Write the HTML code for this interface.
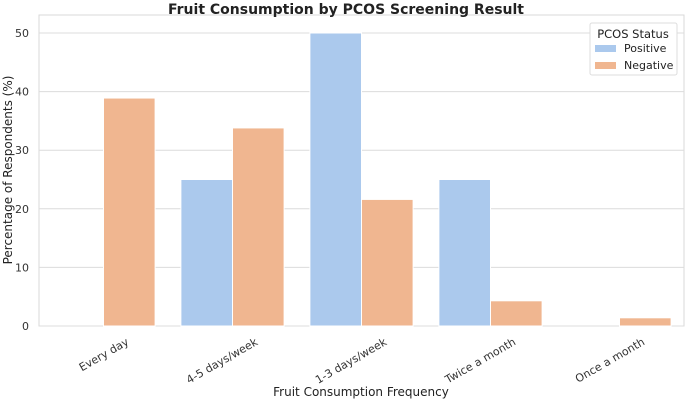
<!DOCTYPE html>
<html><head><meta charset="utf-8"><style>
body{margin:0;background:#fff;font-family:"DejaVu Sans","Liberation Sans",sans-serif;}
</style></head><body>
<svg id="chart" width="685" height="400" xmlns="http://www.w3.org/2000/svg" font-family="DejaVu Sans, Liberation Sans, sans-serif"></svg>
<script>
const categories=["Every day","4-5 days/week","1-3 days/week","Twice a month","Once a month"];
const positive=[0,25,50,25,0];
const negative=[38.9,33.8,21.6,4.3,1.4];
const yTicks=[0,10,20,30,40,50];
const series=[{name:"Positive",vals:positive,color:"#abc9ed"},{name:"Negative",vals:negative,color:"#f0b690"}];
const L=39,R=684,T=15,B=326,Y50=33;
const ns="http://www.w3.org/2000/svg";
const svg=document.getElementById('chart');
function y(v){return B-(B-Y50)*v/50;}
const band=(R-L)/categories.length;
function xc(i){return L+band*(i+0.5);}
function mk(tag,attrs,parent){const e=document.createElementNS(ns,tag);for(const k in attrs)e.setAttribute(k,attrs[k]);(parent||svg).appendChild(e);return e;}
mk('rect',{x:L,y:T,width:R-L,height:B-T,fill:'#fff',stroke:'#d9d9d9','stroke-width':1});
yTicks.forEach(t=>{
 const g=mk('line',{x1:L,x2:R,y1:y(t),y2:y(t),stroke:'#dcdcdc','stroke-width':1});
 
 
 const tx=mk('text',{x:L-10,y:y(t)+4,'text-anchor':'end','font-size':11,fill:'#333'});
 tx.textContent=t;
 
 
});
const bw=band*0.8/2;
categories.forEach((c,i)=>{
 series.forEach((s,j)=>{
  const v=s.vals[i];
  const r=mk('rect',{x:xc(i)-bw+j*bw,y:y(v),width:bw,height:B-y(v),fill:s.color,stroke:'#fff','stroke-width':1});
  
  
 });
 const t=mk('text',{x:0,y:0,'text-anchor':'end','font-size':11,fill:'#333',transform:`translate(${xc(i)+26},${B+18}) rotate(-30)`});
 t.textContent=c;
 
 
});
</script>
<svg width="685" height="400" style="position:absolute;left:0;top:0" font-family="DejaVu Sans, Liberation Sans, sans-serif">
<text x="346" y="14" text-anchor="middle" font-size="14" font-weight="bold" fill="#222">Fruit Consumption by PCOS Screening Result</text>
<text x="361" y="396" text-anchor="middle" font-size="12" fill="#222">Fruit Consumption Frequency</text>
<text transform="translate(12,170) rotate(-90)" text-anchor="middle" font-size="12" fill="#222">Percentage of Respondents (%)</text>
<g>
<rect x="590" y="23" width="87" height="52" fill="#fff" stroke="#dcdcdc" rx="2"/>
<text x="633" y="38" text-anchor="middle" font-size="11.5" fill="#222">PCOS Status</text>
<rect x="595" y="45" width="21" height="7" fill="#abc9ed"/>
<text x="624" y="52" font-size="11" fill="#222">Positive</text>
<rect x="595" y="62" width="21" height="7" fill="#f0b690"/>
<text x="624" y="69" font-size="11" fill="#222">Negative</text>
</g>
</svg>
</body></html>
